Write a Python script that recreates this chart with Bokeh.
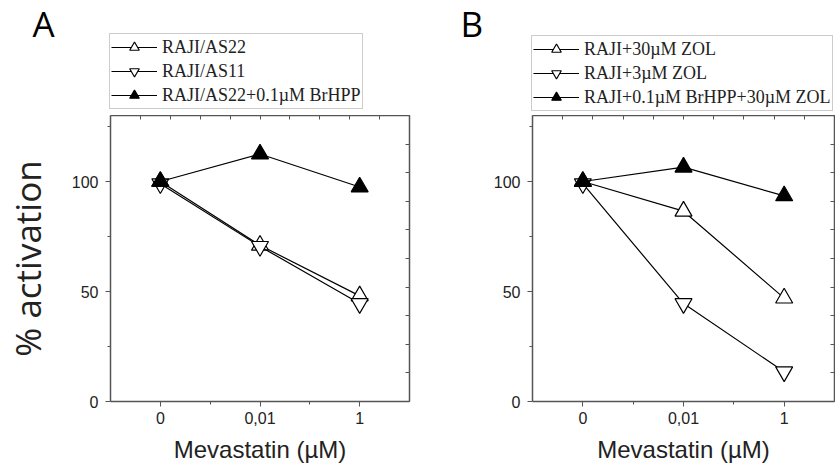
from bokeh.plotting import figure
from bokeh.models import Range1d, LinearAxis, FixedTicker, Legend, LegendItem, Label
from bokeh.layouts import row, column
from bokeh.embed import file_html
from bokeh.resources import INLINE

# ---- data ----
x_labels = ["0", "0,01", "1"]
x_pos = [0, 1, 2]

a_names = ["RAJI/AS22", "RAJI/AS11", "RAJI/AS22+0.1\u00b5M BrHPP"]
a_as22 = [100, 71, 48]
a_as11 = [99, 70.5, 44.5]
a_brhpp = [100, 112.5, 97.5]

b_names = ["RAJI+30\u00b5M ZOL", "RAJI+3\u00b5M ZOL", "RAJI+0.1\u00b5M BrHPP+30\u00b5M ZOL"]
b_zol30 = [100, 86.5, 47]
b_zol3 = [99, 44.5, 13.5]
b_brhpp = [100, 106.5, 93.5]

y_major = [0, 50, 100]
y_minor = [25, 75, 125]
x_minor = [0.5, 1.5]
mirror_ticks = [0, 0.1, 0.2, 0.3, 0.4, 0.5, 0.6, 0.7, 0.8, 0.9, 1.0]

AXC = "#555555"
TXT = "#222222"
HEADER_H = 115
PLOT_H = 351
NAN = float("nan")


def make_header(letter, names, styles, width, leg_x, leg_y, letter_x):
    h = figure(width=width, height=HEADER_H, x_range=Range1d(0, 1), y_range=Range1d(0, 1),
               x_axis_location=None, y_axis_location=None,
               output_backend="svg", toolbar_location=None, frame_align=False,
               min_border_left=0, min_border_right=0, min_border_top=0, min_border_bottom=0)
    h.grid.visible = False
    h.outline_line_color = None
    h.background_fill_color = "white"
    h.border_fill_color = "white"
    items = []
    for name, (marker, fill) in zip(names, styles):
        # legend-only sample renderers (no visible data)
        lr = h.line([NAN], [NAN], line_color="black", line_width=1.2)
        sr = h.scatter([NAN], [NAN], marker=marker, fill_color=fill, line_color="black", line_width=1.2)
        items.append(LegendItem(label=name, renderers=[lr, sr]))
    leg = Legend(items=items, location=(leg_x, leg_y), margin=0, padding=1, spacing=0,
                 glyph_height=24, glyph_width=46, label_height=24, label_standoff=5,
                 label_text_font="Liberation Serif", label_text_font_size="18px",
                 label_text_color=TXT, border_line_color="#999999", border_line_width=1,
                 background_fill_color="white", background_fill_alpha=1.0)
    h.add_layout(leg)
    h.add_layout(Label(x=letter_x, y=HEADER_H - 46, x_units="screen", y_units="screen", text=letter,
                       text_font="Open Sans", text_font_size="35px", text_color="black",
                       text_baseline="bottom"))
    return h


def make_panel(series, styles, width, mbl, mbr, ylabel):
    p = figure(width=width, height=PLOT_H, x_range=Range1d(-0.5, 2.5), y_range=Range1d(0, 130),
               output_backend="svg", toolbar_location=None, frame_align=False,
               min_border_left=mbl, min_border_right=mbr, min_border_top=0,
               min_border_bottom=PLOT_H - (401 - HEADER_H))
    p.grid.visible = False
    p.outline_line_color = None
    p.background_fill_color = "white"
    p.border_fill_color = "white"

    xa = p.xaxis[0]
    xa.ticker = FixedTicker(ticks=x_pos, minor_ticks=x_minor)
    xa.major_label_overrides = {x: l for x, l in zip(x_pos, x_labels)}
    xa.axis_label = "Mevastatin (\u00b5M)"
    xa.axis_label_text_font = "Liberation Sans"
    xa.axis_label_text_font_size = "24px"
    xa.axis_label_text_font_style = "normal"
    xa.axis_label_text_color = TXT
    xa.axis_label_standoff = 9
    xa.major_label_standoff = 5

    ya = p.yaxis[0]
    ya.ticker = FixedTicker(ticks=y_major, minor_ticks=y_minor)
    if ylabel:
        ya.axis_label = ylabel
        ya.axis_label_text_font = "Open Sans"
        ya.axis_label_text_font_size = "35px"
        ya.axis_label_text_font_style = "normal"
        ya.axis_label_text_color = TXT
        ya.axis_label_standoff = 18
    ya.major_label_standoff = 7

    for ax in (xa, ya):
        ax.major_label_text_font = "Liberation Sans"
        ax.major_label_text_font_size = "16px"
        ax.major_label_text_color = TXT
        ax.axis_line_color = AXC
        ax.axis_line_width = 1.5
        ax.major_tick_line_color = AXC
        ax.minor_tick_line_color = AXC
        ax.major_tick_in = 0
        ax.major_tick_out = 5
        ax.minor_tick_in = 0
        ax.minor_tick_out = 3

    p.extra_x_ranges = {"top": Range1d(0, 1)}
    p.extra_y_ranges = {"right": Range1d(0, 1)}
    top = LinearAxis(x_range_name="top", ticker=FixedTicker(ticks=mirror_ticks))
    right = LinearAxis(y_range_name="right", ticker=FixedTicker(ticks=mirror_ticks))
    for ax in (top, right):
        ax.major_label_text_font_size = "0px"
        ax.major_label_text_color = None
        ax.major_label_standoff = 0
        ax.major_tick_in = 4
        ax.major_tick_out = 0
        ax.minor_tick_line_color = None
        ax.axis_line_color = AXC
        ax.axis_line_width = 1.5
        ax.major_tick_line_color = AXC
    p.add_layout(top, "above")
    p.add_layout(right, "right")

    for vals, (marker, fill) in zip(series, styles):
        p.line(x_pos, vals, line_color="black", line_width=1.2)
        p.scatter(x_pos, vals, marker=marker, size=17, fill_color=fill,
                  line_color="black", line_width=1.2)
    return p


styles = [("triangle", "white"), ("inverted_triangle", "white"), ("triangle", "black")]

ha = make_header("A", a_names, styles, 420, 109, 6, 32)
pa = make_panel([a_as22, a_as11, a_brhpp], styles, 420, 107, 11, "% activation")
hb = make_header("B", b_names, styles, 415, 111, 4, 40)
pb = make_panel([b_zol30, b_zol3, b_brhpp], styles, 415, 112, 1, None)

layout = row(column(ha, pa), column(hb, pb))
open("out.html", "w").write(file_html(layout, INLINE))
